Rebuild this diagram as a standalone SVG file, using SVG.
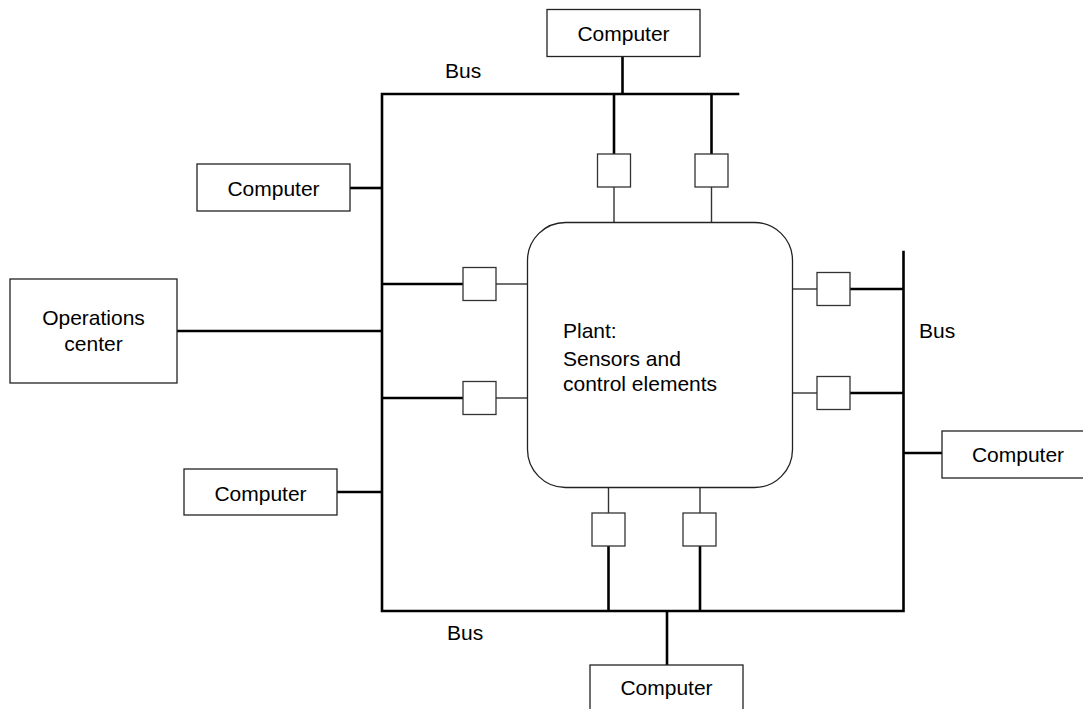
<svg xmlns="http://www.w3.org/2000/svg" width="1083" height="709" viewBox="0 0 1083 709">
<style>
  .box { fill: #fff; stroke: #222; stroke-width: 1.3; }
  .ifc { fill: #fff; stroke: #333; stroke-width: 1.3; }
  .bus { fill: none; stroke: #000; stroke-width: 2.6; stroke-linejoin: miter; stroke-linecap: square; }
  .thick { fill: none; stroke: #000; stroke-width: 2.6; }
  .thin { fill: none; stroke: #333; stroke-width: 1.4; }
  text { font-family: "Liberation Sans", Arial, Helvetica, sans-serif; font-size: 21px; fill: #000; }
  .c { text-anchor: middle; }
</style>
<rect width="1083" height="709" fill="#fff"/>
<g id="connectors">
  <path class="bus" d="M738,94 H382 V611 H903.5 V252"/>
  <line class="thick" x1="622.5" y1="56" x2="622.5" y2="94"/>
  <line class="thick" x1="350" y1="188" x2="382" y2="188"/>
  <line class="thick" x1="177" y1="331" x2="382" y2="331"/>
  <line class="thick" x1="337" y1="492" x2="382" y2="492"/>
  <line class="thick" x1="903.5" y1="453" x2="942" y2="453"/>
  <line class="thick" x1="667" y1="611" x2="667" y2="665"/>
  <line class="thick" x1="614" y1="94" x2="614" y2="154"/>
  <line class="thick" x1="711.5" y1="94" x2="711.5" y2="154"/>
  <line class="thin" x1="614" y1="187" x2="614" y2="222.5"/>
  <line class="thin" x1="711.5" y1="187" x2="711.5" y2="222.5"/>
  <line class="thick" x1="382" y1="284" x2="463" y2="284"/>
  <line class="thick" x1="382" y1="398" x2="463" y2="398"/>
  <line class="thin" x1="496" y1="284" x2="527.5" y2="284"/>
  <line class="thin" x1="496" y1="398" x2="527.5" y2="398"/>
  <line class="thin" x1="792.5" y1="289" x2="817" y2="289"/>
  <line class="thin" x1="792.5" y1="393" x2="817" y2="393"/>
  <line class="thick" x1="850" y1="289" x2="903.5" y2="289"/>
  <line class="thick" x1="850" y1="393" x2="903.5" y2="393"/>
  <line class="thin" x1="608.5" y1="487.5" x2="608.5" y2="513"/>
  <line class="thin" x1="700" y1="487.5" x2="700" y2="513"/>
  <line class="thick" x1="608.5" y1="546" x2="608.5" y2="611"/>
  <line class="thick" x1="700" y1="546" x2="700" y2="611"/>
</g>
<g id="labels">
  <text x="445" y="78">Bus</text>
  <text x="919" y="338">Bus</text>
  <text x="447" y="640">Bus</text>
</g>
<g id="plant">
  <rect x="527.5" y="222.5" width="265" height="265" rx="38" ry="38" class="box"/>
  <text x="563" y="338">Plant:</text>
  <text x="563" y="365.5">Sensors and</text>
  <text x="563" y="391">control elements</text>
</g>
<g id="ifc-top-1"><rect class="ifc" x="597.5" y="154" width="33" height="33"/></g>
<g id="ifc-top-2"><rect class="ifc" x="695" y="154" width="33" height="33"/></g>
<g id="ifc-left-1"><rect class="ifc" x="463" y="267.5" width="33" height="33"/></g>
<g id="ifc-left-2"><rect class="ifc" x="463" y="381.5" width="33" height="33"/></g>
<g id="ifc-right-1"><rect class="ifc" x="817" y="272.5" width="33" height="33"/></g>
<g id="ifc-right-2"><rect class="ifc" x="817" y="376.5" width="33" height="33"/></g>
<g id="ifc-bottom-1"><rect class="ifc" x="592" y="513" width="33" height="33"/></g>
<g id="ifc-bottom-2"><rect class="ifc" x="683" y="513" width="33" height="33"/></g>
<g id="computer-top">
  <rect class="box" x="547" y="9.5" width="153" height="47"/>
  <text class="c" x="623.5" y="41">Computer</text>
</g>
<g id="computer-left-top">
  <rect class="box" x="197" y="164" width="153" height="47"/>
  <text class="c" x="273.5" y="195.5">Computer</text>
</g>
<g id="operations-center">
  <rect class="box" x="10" y="279" width="167" height="104"/>
  <text class="c" x="93.5" y="325">Operations</text>
  <text class="c" x="93.5" y="351">center</text>
</g>
<g id="computer-left-bottom">
  <rect class="box" x="184" y="469" width="153" height="46"/>
  <text class="c" x="260.5" y="500.5">Computer</text>
</g>
<g id="computer-right">
  <rect class="box" x="942" y="431" width="153" height="47"/>
  <text class="c" x="1018" y="462">Computer</text>
</g>
<g id="computer-bottom">
  <rect class="box" x="590" y="665" width="153" height="47"/>
  <text class="c" x="666.5" y="695">Computer</text>
</g>
</svg>
